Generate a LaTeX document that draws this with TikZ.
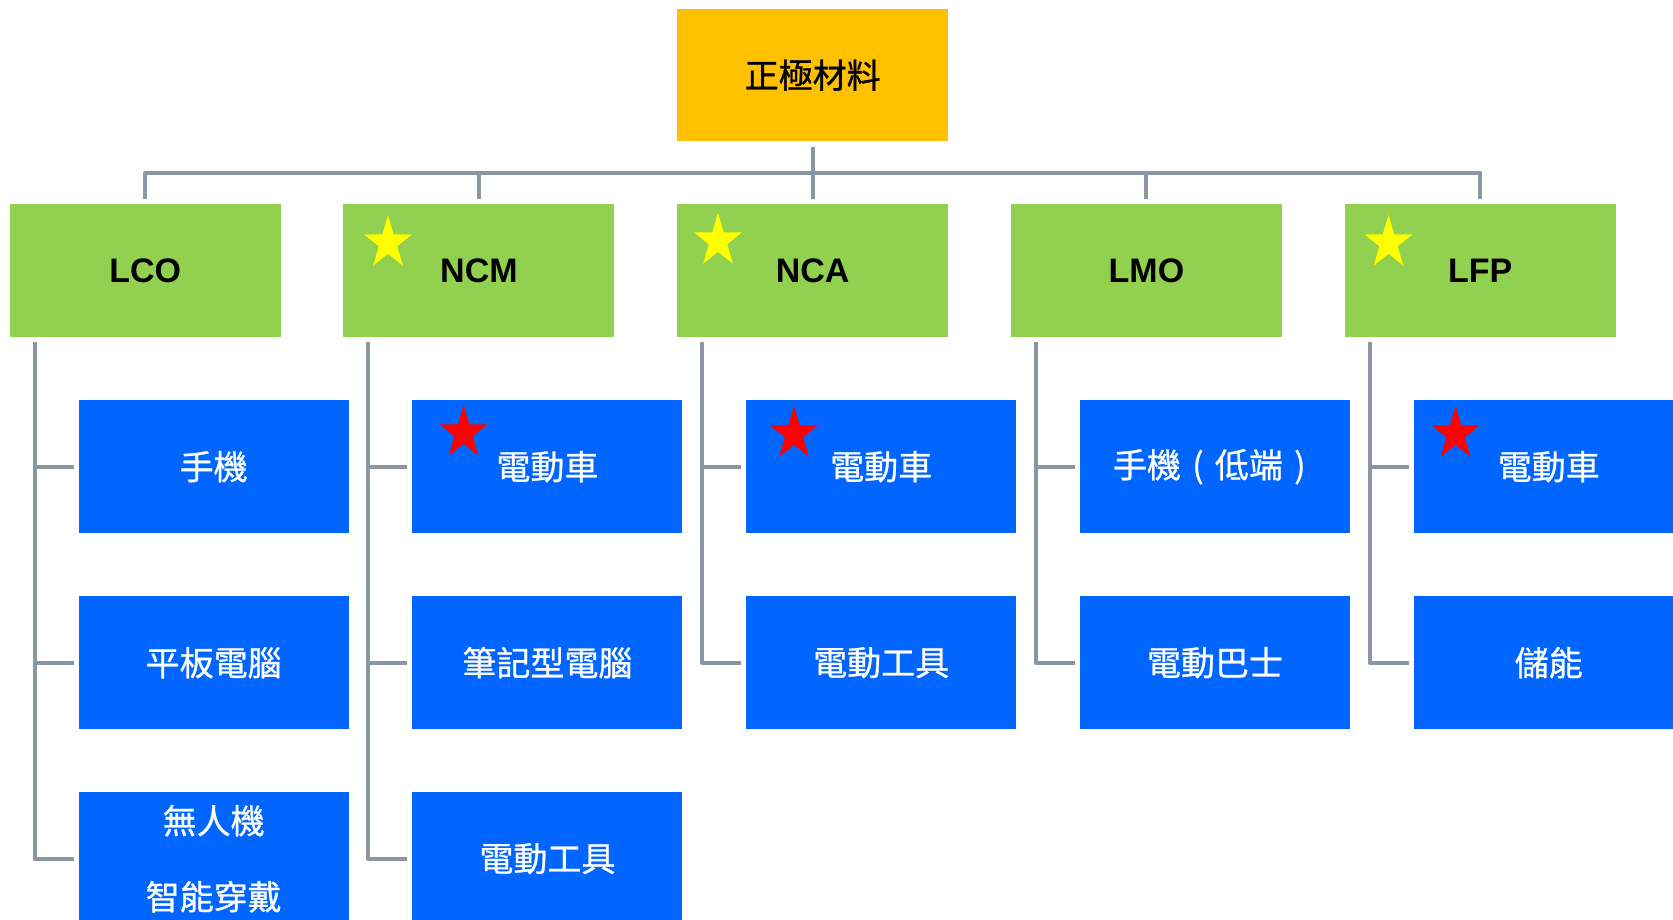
\documentclass[tikz,border=0pt]{standalone}
\usepackage{fontspec}
\setmainfont{Liberation Sans}
\newfontfamily\cjk[FakeBold=0.8]{Noto Sans CJK TC}
\usetikzlibrary{shapes.geometric}
\definecolor{rootc}{HTML}{FFC000}
\definecolor{greenc}{HTML}{92D050}
\definecolor{bluec}{HTML}{0066FF}
\definecolor{linec}{HTML}{8A96A3}
\definecolor{starY}{HTML}{FFFF00}
\definecolor{starR}{HTML}{FF0000}
\newcommand{\cpar}[1]{\makebox[1em][c]{#1}}
\begin{document}
\begin{tikzpicture}[x=1pt,y=-1pt,
 rootbox/.style={fill=rootc, minimum width=271pt, minimum height=132pt, inner sep=0pt, anchor=north west, font=\cjk\fontsize{34}{40}\selectfont},
 catbox/.style={fill=greenc, minimum width=271pt, minimum height=133pt, inner sep=0pt, anchor=north west, font=\bfseries\fontsize{34}{40}\selectfont},
 appbox/.style={fill=bluec, minimum width=270pt, minimum height=133pt, inner sep=0pt, anchor=north west, text=white, font=\cjk\fontsize{34}{76}\selectfont, align=center},
 conn/.style={draw=linec, line width=4pt, line join=round, shorten <=5pt, shorten >=5pt},
 ystar/.style={star, star points=5, star point ratio=2.6, minimum size=56pt, inner sep=0pt, fill=starY, xscale=0.9},
 rstar/.style={star, star points=5, star point ratio=2.6, minimum size=56pt, inner sep=0pt, fill=starR, xscale=0.9}
]
\clip (0,0) rectangle (1673,920);
\fill[white] (0,0) rectangle (1673,920);

% root and categories
\node[rootbox] (root) at (677,9) {正極材料};
\node[catbox] (lco) at (9.5,204) {LCO};
\node[catbox] (ncm) at (343.25,204) {NCM};
\node[catbox] (nca) at (677,204) {NCA};
\node[catbox] (lmo) at (1010.75,204) {LMO};
\node[catbox] (lfp) at (1344.5,204) {LFP};

% applications
\node[appbox] (a1) at (78.5,400) {手機};
\node[appbox] (a2) at (78.5,596) {平板電腦};
\node[appbox] (a3) at (78.5,792) {無人機\\智能穿戴};
\node[appbox] (b1) at (412.25,400) {電動車};
\node[appbox] (b2) at (412.25,596) {筆記型電腦};
\node[appbox] (b3) at (412.25,792) {電動工具};
\node[appbox] (c1) at (746,400) {電動車};
\node[appbox] (c2) at (746,596) {電動工具};
\node[appbox] (d1) at (1079.75,400) {手機\cpar{(}低端\cpar{)}};
\node[appbox] (d2) at (1079.75,596) {電動巴士};
\node[appbox] (e1) at (1413.5,400) {電動車};
\node[appbox] (e2) at (1413.5,596) {儲能};

% connectors root -> categories
\coordinate (bus) at (0,173);
\foreach \c in {lco,ncm,nca,lmo,lfp}{
  \draw[conn, shorten <=6pt] (root.south) -- (root.south |- bus) -| (\c.north);
}

% connectors categories -> applications
\coordinate (lcoV) at ([xshift=25pt]lco.south west);
\coordinate (ncmV) at ([xshift=25pt]ncm.south west);
\coordinate (ncaV) at ([xshift=25pt]nca.south west);
\coordinate (lmoV) at ([xshift=25pt]lmo.south west);
\coordinate (lfpV) at ([xshift=25pt]lfp.south west);
\foreach \s/\t in {lcoV/a1,lcoV/a2,lcoV/a3,ncmV/b1,ncmV/b2,ncmV/b3,ncaV/c1,ncaV/c2,lmoV/d1,lmoV/d2,lfpV/e1,lfpV/e2}{
  \draw[conn] (\s) |- (\t.west);
}

% stars
\node[ystar] (s1) at (388,243) {};
\node[ystar] (s2) at (718,241) {};
\node[ystar] (s3) at (1388.5,243) {};
\node[rstar] (r1) at (463.6,433) {};
\node[rstar] (r2) at (794,434) {};
\node[rstar] (r3) at (1455.6,434) {};
\end{tikzpicture}
\end{document}
